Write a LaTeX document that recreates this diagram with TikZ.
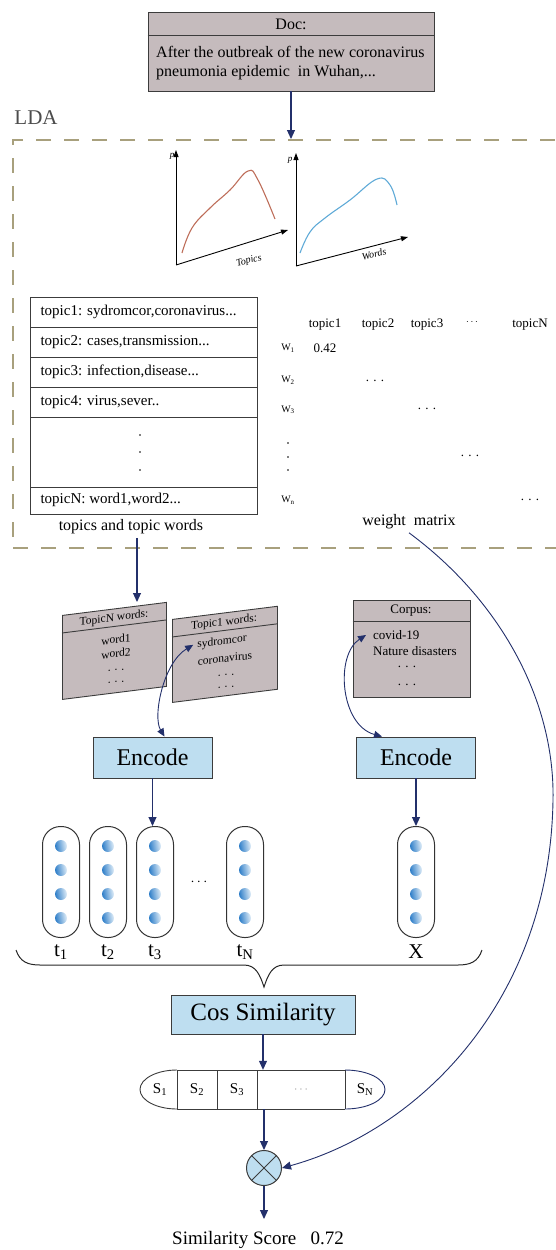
\documentclass[tikz,border=0pt]{standalone}
\usepackage{fontspec}
\setmainfont{Liberation Serif}
\usetikzlibrary{arrows.meta}

\definecolor{cardgray}{RGB}{197,187,189}
\definecolor{encblue}{RGB}{190,222,240}
\definecolor{navy}{RGB}{35,48,107}
\definecolor{ldadash}{RGB}{168,160,125}
\definecolor{edgegray}{RGB}{60,60,60}
\definecolor{redcurve}{RGB}{190,110,90}
\definecolor{bluecurve}{RGB}{95,170,215}
\definecolor{ballblue}{RGB}{45,125,200}
\definecolor{balllight}{RGB}{225,238,248}

\newcommand{\fsz}[1]{\fontsize{#1}{#1}\selectfont}

\tikzset{
  flow/.style={navy, line width=1.1pt, -{Triangle[length=9pt,width=8pt]}},
  dflow/.style={navy, line width=0.9pt, {Triangle[length=8pt,width=7pt]}-{Triangle[length=8pt,width=7pt]}},
  axis/.style={black, line width=0.9pt, -{Triangle[length=7pt,width=5pt]}},
  card/.style={draw=edgegray, fill=cardgray, line width=0.9pt},
  cardtxt/.style={transform shape, inner sep=0pt, font={\fsz{11.5}}},
  encbox/.style={draw=edgegray, fill=encblue, line width=0.9pt, minimum width=119pt, minimum height=41pt, font={\fsz{24}}},
  capsule/.style={draw=black!80, line width=1pt, rounded corners=18pt, minimum width=37pt, minimum height=111pt},
  ball/.style={circle, left color=ballblue, right color=balllight, shading angle=100, minimum size=12pt, inner sep=0pt},
  rowtxt/.style={anchor=west, font={\fsz{15}}},
  mtx/.style={font={\fsz{13}}},
  wlab/.style={font={\fsz{10}}},
}

\begin{document}
\begin{tikzpicture}[x=1pt, y=-1pt]
\useasboundingbox (0,0) rectangle (555,1250);

% document
\node[card, minimum width=286pt, minimum height=79pt] (doc) at (291,51.5) {};
\draw[edgegray, line width=0.9pt] ([yshift=-24pt]doc.north west) -- ([yshift=-24pt]doc.north east);
\node[font={\fsz{16}}] (dochead) at (291,24) {Doc:};
\node[anchor=north west, inner sep=0pt, align=left, font={\fsz{16}}] (doctext) at (156,46)
  {After the outbreak of the new coronavirus\\[3pt]pneumonia epidemic\ \ in Wuhan,...};

% LDA block
\node[font={\fsz{21}}, text=black!70] (ldalabel) at (36,118) {LDA};
\node[draw=ldadash, line width=2pt, dash pattern=on 15pt off 13pt, minimum width=557pt, minimum height=408pt] (lda) at (291.5,344) {};
\draw[flow] (doc.south) -- (doc.south |- lda.north);

% p(topics)
\draw[axis] (176,265) -- (176,150);
\draw[axis] (176,265) -- (288,230);
\node[font={\itshape\fsz{9}}] (p1) at (172,156) {p};
\node[font={\itshape\fsz{10}}, rotate=14] (xl1) at (249,261) {Topics};
\draw[redcurve, line width=1.1pt] plot[smooth, tension=0.7] coordinates {(182,253) (192,228) (210,208) (230,190) (248,171) (258,180) (275,219)};

% p(words)
\draw[axis] (296,266) -- (296,153);
\draw[axis] (296,266) -- (408,237);
\node[font={\itshape\fsz{9}}] (p2) at (290,160) {p};
\node[font={\itshape\fsz{10}}, rotate=14] (xl2) at (374,254) {Words};
\draw[bluecurve, line width=1.1pt] plot[smooth, tension=0.7] coordinates {(300,253) (310,232) (325,218) (350,200) (377,179) (390,185) (397,205)};

% topics table
\draw[edgegray, line width=0.9pt] (30,297) rectangle (257,514);
\foreach \y in {327,357,387,417,487}
  \draw[edgegray, line width=0.9pt] (30,\y) -- (257,\y);
\foreach \y/\t [count=\i] in {312/{topic1: sydromcor,coronavirus...}, 342/{topic2: cases,transmission...},
    372/{topic3: infection,disease...}, 402/{topic4: virus,sever..}, 500/{topicN: word1,word2...}}
  \node[rowtxt] (tp\i) at (37,\y) {\t};
\foreach \y in {435,452,470}
  \fill (140,\y) circle (0.8pt);
\node[font={\fsz{16}}] (tw) at (131,527) {topics and topic words};

% weight matrix
\foreach \x/\t [count=\i] in {325/topic1, 378/topic2, 427/topic3, 530/topicN}
  \node[mtx] (h\i) at (\x,325) {\t};
\node[font={\fsz{10}}] (hdots) at (472,322) {$\cdots$};
\foreach \y/\s in {348/1, 380/2, 410/3, 500/n}
  \node[wlab] (w\s) at (288,\y) {W\textsubscript{\s}};
\foreach \y in {443,457,470}
  \fill (288,\y) circle (0.8pt);
\node[mtx] (v11) at (325,348) {0.42};
\node[mtx] (v22) at (375,381) {. . .};
\node[mtx] (v33) at (427,409) {. . .};
\node[mtx] (v44) at (470,456) {. . .};
\node[mtx] (vnn) at (530,500) {. . .};
\node[font={\fsz{16}}] (wm) at (409,522) {weight\ \ matrix};

% topic word cards
\coordinate (cNtop) at (137,602);
\draw[flow] ([xshift=6pt]tw.south) -- (cNtop);
\begin{scope}[shift={(62,615)}, yslant=0.125]
  \node[card, transform shape, anchor=north west, minimum width=104pt, minimum height=84pt] (cardN) at (0,0) {};
  \draw[edgegray, line width=0.9pt] (0,18) -- (104,18);
  \node[cardtxt] (cardNhead) at (52,10) {TopicN words:};
  \node[cardtxt] (wd1) at (54,31) {word1};
  \node[cardtxt] (wd2) at (54,45) {word2};
  \node[cardtxt] (wdots1) at (54,62) {. . .};
  \node[cardtxt] (wdots2) at (54,74) {. . .};
\end{scope}
\begin{scope}[shift={(172,619)}, yslant=0.125]
  \node[card, transform shape, anchor=north west, minimum width=105pt, minimum height=83pt] (card1) at (0,0) {};
  \draw[edgegray, line width=0.9pt] (0,18) -- (105,18);
  \node[cardtxt] (card1head) at (52,10) {Topic1 words:};
  \node[cardtxt] (syd) at (50,29) {sydromcor};
  \node[cardtxt] (cor) at (53,46) {coronavirus};
  \node[cardtxt] (sdots1) at (54,63) {. . .};
  \node[cardtxt] (sdots2) at (54,75) {. . .};
\end{scope}

% corpus
\node[card, minimum width=117pt, minimum height=97pt] (corpus) at (411.5,648.5) {};
\draw[edgegray, line width=0.9pt] ([yshift=-22pt]corpus.north west) -- ([yshift=-22pt]corpus.north east);
\node[font={\fsz{13}}] (corphead) at (411,611) {Corpus:};
\node[anchor=west, font={\fsz{13}}, inner sep=1pt] (cov) at (372,635) {covid-19};
\node[anchor=west, font={\fsz{13}}, inner sep=1pt] (nat) at (372,651) {Nature disasters};
\node[font={\fsz{13}}, inner sep=1pt] (cdots1) at (407,667) {. . .};
\node[font={\fsz{13}}, inner sep=1pt] (cdots2) at (407,685) {. . .};

% encoders
\node[encbox] (enc1) at (152.5,757.5) {Encode};
\node[encbox] (enc2) at (416,757.5) {Encode};
\draw[dflow] ([xshift=-4pt]syd.west) .. controls +(-30,18) and +(-12,-20) .. ([xshift=12pt]enc1.north);
\draw[dflow] ([xshift=-6pt]cov.west) .. controls (335,655) and (340,725) .. ([xshift=-34pt]enc2.north);

% vectors
\foreach \x/\n in {61/1, 108/2, 155/3, 245/N} {
  \node[capsule] (cap\n) at (\x,882) {};
  \foreach \y [count=\k] in {846,870,894,918}
    \node[ball] (b\n\k) at (\x,\y) {};
  \node[font={\fsz{21}}] (t\n) at (\x,952) {t\textsubscript{\n}};
}
\node[font={\fsz{14}}] (tdots) at (199,882) {$\cdots$};
\node[capsule] (capX) at (416,882) {};
\foreach \y [count=\k] in {846,870,894,918}
  \node[ball] (bX\k) at (416,\y) {};
\node[font={\fsz{21}}] (tX) at (416,952) {X};
\draw[flow] (enc1.south) -- (enc1.south |- cap3.north);
\draw[flow] (enc2.south) -- (capX.north);

% brace
\draw[black!85, line width=1pt] (16,950) .. controls (20,962) and (28,965) .. (40,965) -- (244,965)
  .. controls (256,965) and (260,975) .. (264,987) .. controls (268,975) and (272,965) .. (284,965)
  -- (458,965) .. controls (470,965) and (478,962) .. (482,950);

% similarity
\node[encbox, minimum width=184pt, minimum height=39pt, font={\fsz{25}}] (cos) at (263,1014.5) {Cos Similarity};
\node[minimum width=245pt, minimum height=39pt, inner sep=0pt] (srow) at (262.5,1089.5) {};
\draw[edgegray, line width=0.9pt] (177,1070) -- (345,1070) (177,1109) -- (345,1109);
\foreach \x in {177,217,257,345}
  \draw[edgegray, line width=0.9pt] (\x,1070) -- (\x,1109);
\draw[edgegray, line width=0.9pt] (177,1070) arc[start angle=90, end angle=270, x radius=37pt, y radius=19.5pt];
\draw[navy, line width=0.9pt] (345,1070) arc[start angle=90, end angle=-90, x radius=40pt, y radius=19.5pt];
\foreach \x/\s in {160/1, 197/2, 237/3, 365/N}
  \node[font={\fsz{15}}] (s\s) at (\x,1089.5) {S\textsubscript{\s}};
\node[font={\fsz{12}}, text=black!40] (sdots) at (301,1089.5) {$\cdots$};
\draw[flow] (cos.south) -- (cos.south |- srow.north);

\node[circle, draw=edgegray, fill=encblue, minimum size=35pt, line width=1pt] (mul) at (264,1168) {};
\draw[edgegray, line width=1pt] (mul.north west) -- (mul.south east) (mul.north east) -- (mul.south west);
\draw[flow] (srow.south -| mul.north) -- (mul.north);
\draw[navy, line width=0.9pt, -{Triangle[length=9pt,width=8pt]}] (wm.south) .. controls (500,600) and (555,700) .. (553,800)
  .. controls (550,1000) and (420,1130) .. (mul.east);

\coordinate (scoretop) at (264,1219);
\draw[flow] (mul.south) -- (scoretop);
\node[font={\fsz{19}}] (score) at (258,1240) {Similarity Score\ \ \ 0.72};
\end{tikzpicture}
\end{document}
